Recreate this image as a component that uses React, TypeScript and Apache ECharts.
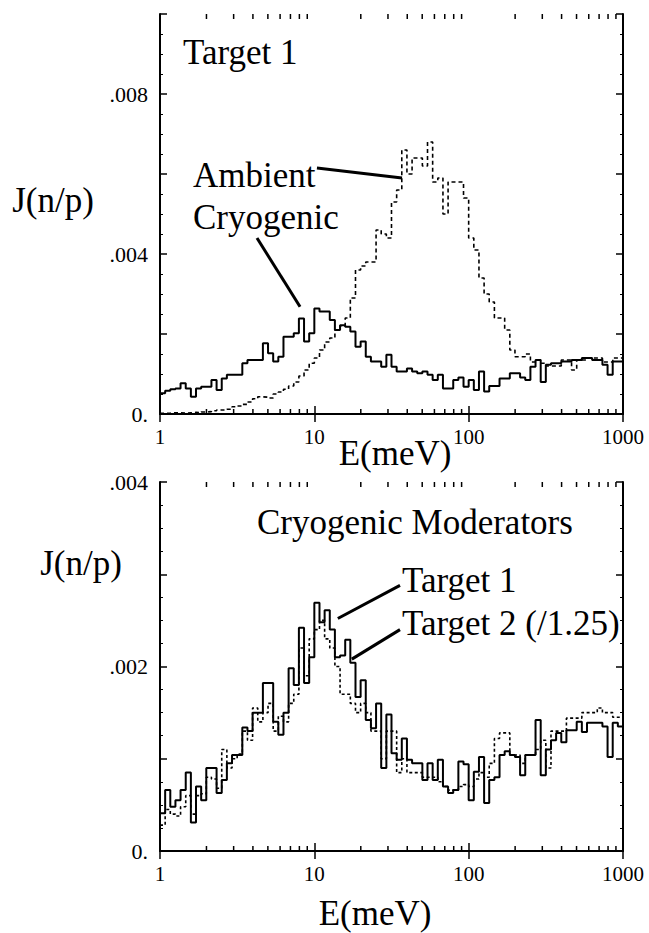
import React, { useEffect, useRef } from "react";
import * as echarts from "echarts";

// Bin edges (meV), 30 log bins per decade, 1 .. 1000
const BIN_EDGES = [
  1, 1.08, 1.166, 1.259, 1.359, 1.468, 1.585, 1.711, 1.848, 1.995,
  2.154, 2.326, 2.512, 2.712, 2.929, 3.162, 3.415, 3.687, 3.981, 4.299,
  4.642, 5.012, 5.412, 5.843, 6.31, 6.813, 7.356, 7.943, 8.577, 9.261,
  10, 10.8, 11.66, 12.59, 13.59, 14.68, 15.85, 17.11, 18.48, 19.95,
  21.54, 23.26, 25.12, 27.12, 29.29, 31.62, 34.15, 36.87, 39.81, 42.99,
  46.42, 50.12, 54.12, 58.43, 63.1, 68.13, 73.56, 79.43, 85.77, 92.61,
  100, 108, 116.6, 125.9, 135.9, 146.8, 158.5, 171.1, 184.8, 199.5,
  215.4, 232.6, 251.2, 271.2, 292.9, 316.2, 341.5, 368.7, 398.1, 429.9,
  464.2, 501.2, 541.2, 584.3, 631, 681.3, 735.6, 794.3, 857.7, 926.1,
  1000,
];

// Top panel (Target 1): ambient (dashed) and cryogenic (solid)
const AMBIENT = [
  0.00002, 0.00002, 0.00003, 0.00003, 0.00002, 0.00003, 0.00004, 0.00003, 0.00005, 0.00006,
  0.00008, 0.0001, 0.0001, 0.00012, 0.00018, 0.0002, 0.00024, 0.0003, 0.00038, 0.00043,
  0.00042, 0.0004, 0.0005, 0.00055, 0.00062, 0.0007, 0.0008, 0.00095, 0.0011, 0.00127,
  0.0014, 0.0016, 0.0018, 0.0019, 0.0021, 0.0022, 0.0024, 0.0029, 0.0036, 0.0037,
  0.0038, 0.0038, 0.0046, 0.0045, 0.0044, 0.0053, 0.0056, 0.0066, 0.006, 0.0064,
  0.0064, 0.0062, 0.0068, 0.0058, 0.0059, 0.005, 0.0058, 0.0058, 0.0058, 0.0054,
  0.0044, 0.0041, 0.0034, 0.003, 0.0028, 0.0024, 0.0024, 0.0021, 0.0016, 0.00143,
  0.00143, 0.0015, 0.0013, 0.00135, 0.00127, 0.0012, 0.0012, 0.0012, 0.00135, 0.00135,
  0.0011, 0.00135, 0.00135, 0.0014, 0.0014, 0.0014, 0.0013, 0.0013, 0.0014, 0.0014,
];
const CRYOGENIC = [
  0.00052, 0.00058, 0.00062, 0.00064, 0.00077, 0.00064, 0.00043, 0.00064, 0.00068, 0.00068,
  0.00085, 0.0006, 0.00089, 0.00098, 0.00098, 0.00098, 0.00127, 0.00135, 0.00135, 0.00135,
  0.00177, 0.00152, 0.00131, 0.00143, 0.00193, 0.00193, 0.00202, 0.00239, 0.00181, 0.00202,
  0.00264, 0.00256, 0.00256, 0.00235, 0.0021, 0.00222, 0.00218, 0.00206, 0.00168, 0.00181,
  0.00143, 0.00131, 0.00131, 0.00118, 0.00148, 0.00118, 0.00106, 0.00106, 0.00114, 0.00106,
  0.00102, 0.00106, 0.00098, 0.00085, 0.00098, 0.00064, 0.00064, 0.00085, 0.00091, 0.00068,
  0.00085, 0.0006, 0.00106, 0.00056, 0.0007, 0.0007, 0.00089, 0.00089, 0.00102, 0.00102,
  0.00091, 0.00085, 0.00118, 0.00135, 0.0008, 0.00123, 0.00127, 0.00127, 0.00131, 0.00131,
  0.00135, 0.00135, 0.0014, 0.0014, 0.00135, 0.00135, 0.00123, 0.00098, 0.00131, 0.00131,
];

// Bottom panel (Cryogenic moderators): Target 1 (solid), Target 2 /1.25 (dotted)
const TARGET1 = [
  0.00041, 0.00066, 0.00048, 0.00055, 0.00066, 0.00085, 0.00031, 0.0007, 0.00055, 0.0009,
  0.0009, 0.00063, 0.00077, 0.00095, 0.00104, 0.00104, 0.00134, 0.0013, 0.0015, 0.0015,
  0.00182, 0.00182, 0.0014, 0.00126, 0.0015, 0.00198, 0.0018, 0.00242, 0.00182, 0.0021,
  0.00269, 0.00248, 0.00261, 0.0024, 0.0021, 0.00212, 0.00229, 0.00204, 0.00167, 0.00185,
  0.00142, 0.00133, 0.0016, 0.0009, 0.00148, 0.00106, 0.00099, 0.00122, 0.00099, 0.00095,
  0.00095, 0.00077, 0.00095, 0.00077, 0.00099, 0.0007, 0.00063, 0.00066, 0.00097, 0.00094,
  0.00055, 0.00086, 0.00102, 0.00052, 0.00077, 0.0008, 0.00104, 0.00108, 0.00104, 0.00102,
  0.00082, 0.00104, 0.00104, 0.00142, 0.00082, 0.0011, 0.0012, 0.00128, 0.00118, 0.00131,
  0.00131, 0.0014, 0.00129, 0.00139, 0.00139, 0.00139, 0.00135, 0.00102, 0.00139, 0.00135,
];
const TARGET2 = [
  0.00028, 0.00045, 0.0004, 0.00038, 0.00048, 0.0006, 0.0004, 0.0006, 0.00062, 0.0008,
  0.00078, 0.00068, 0.0011, 0.0009, 0.001, 0.00105, 0.0013, 0.0012, 0.00155, 0.0014,
  0.0015, 0.0016, 0.0013, 0.00146, 0.0014, 0.0016, 0.0017, 0.0022, 0.0019, 0.0023,
  0.0024, 0.0025, 0.0023, 0.0022, 0.002, 0.0017, 0.0017, 0.0016, 0.0015, 0.0016,
  0.0015, 0.0013, 0.0013, 0.001, 0.0013, 0.0013, 0.00085, 0.001, 0.00085, 0.00085,
  0.00085, 0.0008, 0.0008, 0.0008, 0.00075, 0.0007, 0.00066, 0.00066, 0.0007, 0.00072,
  0.0007, 0.00078, 0.00085, 0.0008, 0.00095, 0.00122, 0.00128, 0.00128, 0.00104, 0.00104,
  0.00095, 0.00104, 0.00104, 0.0011, 0.0012, 0.0009, 0.0013, 0.0013, 0.0013, 0.00144,
  0.00144, 0.00144, 0.0015, 0.0015, 0.0015, 0.00155, 0.0015, 0.0015, 0.00145, 0.00145,
];

const MINOR_X_TICKS = [
  2, 3, 4, 5, 6, 7, 8, 9, 20, 30, 40, 50, 60, 70, 80, 90, 200, 300, 400, 500, 600, 700, 800, 900,
];

const TOP_Y_MAX = 0.01;
const BOT_Y_MAX = 0.004;

const FONT = "Liberation Serif";

function toSteps(vals: number[]) {
  const pts: number[][] = vals.map((v, i) => [BIN_EDGES[i], v]);
  pts.push([BIN_EDGES[vals.length], vals[vals.length - 1]]);
  return pts;
}

function minorTickSeries(xi: number, yi: number, yMax: number) {
  return {
    type: "custom",
    xAxisIndex: xi,
    yAxisIndex: yi,
    silent: true,
    clip: false,
    z: 10,
    encode: { x: 0, y: 1 },
    data: MINOR_X_TICKS.map((e) => [e, 0]),
    renderItem: (_p: any, api: any) => {
      const e = api.value(0);
      const b = api.coord([e, 0]);
      const t = api.coord([e, yMax]);
      return {
        type: "group",
        children: [
          { type: "line", shape: { x1: b[0], y1: b[1], x2: b[0], y2: b[1] - 5 }, style: { stroke: "#000", lineWidth: 1.5 } },
          { type: "line", shape: { x1: t[0], y1: t[1], x2: t[0], y2: t[1] + 5 }, style: { stroke: "#000", lineWidth: 1.5 } },
        ],
      };
    },
  };
}

function xAxisDef(gridIndex: number, position: string, showLabel: boolean) {
  return {
    gridIndex,
    type: "log",
    logBase: 10,
    min: 1,
    max: 1000,
    position,
    axisLine: { show: true, lineStyle: { color: "#000", width: 2 } },
    axisTick: { show: true, inside: true, length: 8, lineStyle: { color: "#000", width: 1.5 } },
    axisLabel: {
      show: showLabel,
      color: "#000",
      fontFamily: FONT,
      fontSize: 21,
      margin: 12,
      formatter: (v: number) => String(Math.round(v)),
    },
    splitLine: { show: false },
    minorTick: { show: false },
  };
}

function yAxisDef(gridIndex: number, position: string, max: number, interval: number, labelEvery: number, showLabel: boolean) {
  return {
    gridIndex,
    type: "value",
    min: 0,
    max,
    interval,
    position,
    axisLine: { show: true, lineStyle: { color: "#000", width: 2 } },
    axisTick: { show: true, inside: true, length: 7, lineStyle: { color: "#000", width: 1.5 } },
    minorTick: { show: true, splitNumber: 4, length: 3, lineStyle: { color: "#000", width: 1 } },
    axisLabel: {
      show: showLabel,
      color: "#000",
      fontFamily: FONT,
      fontSize: 22,
      margin: 12,
      formatter: (v: number) => {
        const r = Math.round(v * 1000);
        if (r === 0) return "0.";
        if (r % labelEvery !== 0) return "";
        return ".00" + r;
      },
    },
    splitLine: { show: false },
  };
}

const leader = (a: number[], b: number[]) => [
  { coord: a, symbol: "none" },
  { coord: b, symbol: "none" },
];

export default function App() {
  const ref = useRef<HTMLDivElement>(null);
  useEffect(() => {
    if (!ref.current) return;
    const chart = echarts.init(ref.current, undefined, { renderer: "svg" });
    const text = (t: string, x: number, y: number, size: number, align = "left") => ({
      type: "text",
      x,
      y,
      style: {
        text: t,
        fill: "#000",
        fontFamily: FONT,
        fontSize: size,
        align,
        verticalAlign: "middle",
      },
      z: 20,
    });
    const option: any = {
      animation: false,
      backgroundColor: "#fff",
      textStyle: { fontFamily: FONT },
      grid: [
        { left: 160, top: 14, width: 463, height: 400 },
        { left: 160, top: 482, width: 463, height: 369 },
      ],
      xAxis: [
        xAxisDef(0, "bottom", true),
        xAxisDef(0, "top", false),
        xAxisDef(1, "bottom", true),
        xAxisDef(1, "top", false),
      ],
      yAxis: [
        yAxisDef(0, "left", TOP_Y_MAX, 0.002, 4, true),
        yAxisDef(0, "right", TOP_Y_MAX, 0.002, 4, false),
        yAxisDef(1, "left", BOT_Y_MAX, 0.001, 2, true),
        yAxisDef(1, "right", BOT_Y_MAX, 0.001, 2, false),
      ],
      series: [
        {
          name: "Ambient",
          type: "line",
          xAxisIndex: 0,
          yAxisIndex: 0,
          step: "end",
          showSymbol: false,
          symbol: "none",
          data: toSteps(AMBIENT),
          lineStyle: { color: "#000", width: 1.6, type: [4, 3] },
        },
        {
          name: "Cryogenic",
          type: "line",
          xAxisIndex: 0,
          yAxisIndex: 0,
          step: "end",
          showSymbol: false,
          symbol: "none",
          data: toSteps(CRYOGENIC),
          lineStyle: { color: "#000", width: 2 },
          markLine: {
            silent: true,
            symbol: ["none", "none"],
            label: { show: false },
            lineStyle: { color: "#000", width: 3, type: "solid" },
            data: [
              leader([10.4, 0.00615], [37, 0.0059]),
              leader([4.25, 0.0044], [8.08, 0.00268]),
            ],
          },
        },
        {
          name: "Target 2 (/1.25)",
          type: "line",
          xAxisIndex: 2,
          yAxisIndex: 2,
          step: "end",
          showSymbol: false,
          symbol: "none",
          data: toSteps(TARGET2),
          lineStyle: { color: "#000", width: 1.6, type: [3, 2.5] },
        },
        {
          name: "Target 1",
          type: "line",
          xAxisIndex: 2,
          yAxisIndex: 2,
          step: "end",
          showSymbol: false,
          symbol: "none",
          data: toSteps(TARGET1),
          lineStyle: { color: "#000", width: 2 },
          markLine: {
            silent: true,
            symbol: ["none", "none"],
            label: { show: false },
            lineStyle: { color: "#000", width: 3, type: "solid" },
            data: [
              leader([14.2, 0.00252], [35.9, 0.00288]),
              leader([17.5, 0.00208], [35.9, 0.0024]),
            ],
          },
        },
        minorTickSeries(0, 0, TOP_Y_MAX),
        minorTickSeries(2, 2, BOT_Y_MAX),
      ],
      graphic: [
        text("Target 1", 183, 52, 35),
        text("Ambient", 193, 175, 35),
        text("Cryogenic", 193, 217, 35),
        text("J(n/p)", 53, 200, 35, "center"),
        text("E(meV)", 395, 453, 35, "center"),
        text("Cryogenic Moderators", 257, 522, 35),
        text("Target 1", 402, 580, 35),
        text("Target 2 (/1.25)", 402, 623, 35),
        text("J(n/p)", 81, 563, 35, "center"),
        text("E(meV)", 375, 913, 35, "center"),
      ],
    };
    chart.setOption(option);
    return () => chart.dispose();
  }, []);
  return (
    <div
      ref={ref}
      style={{ position: "fixed", left: 0, top: 0, width: 649, height: 933, background: "#fff" }}
    />
  );
}
